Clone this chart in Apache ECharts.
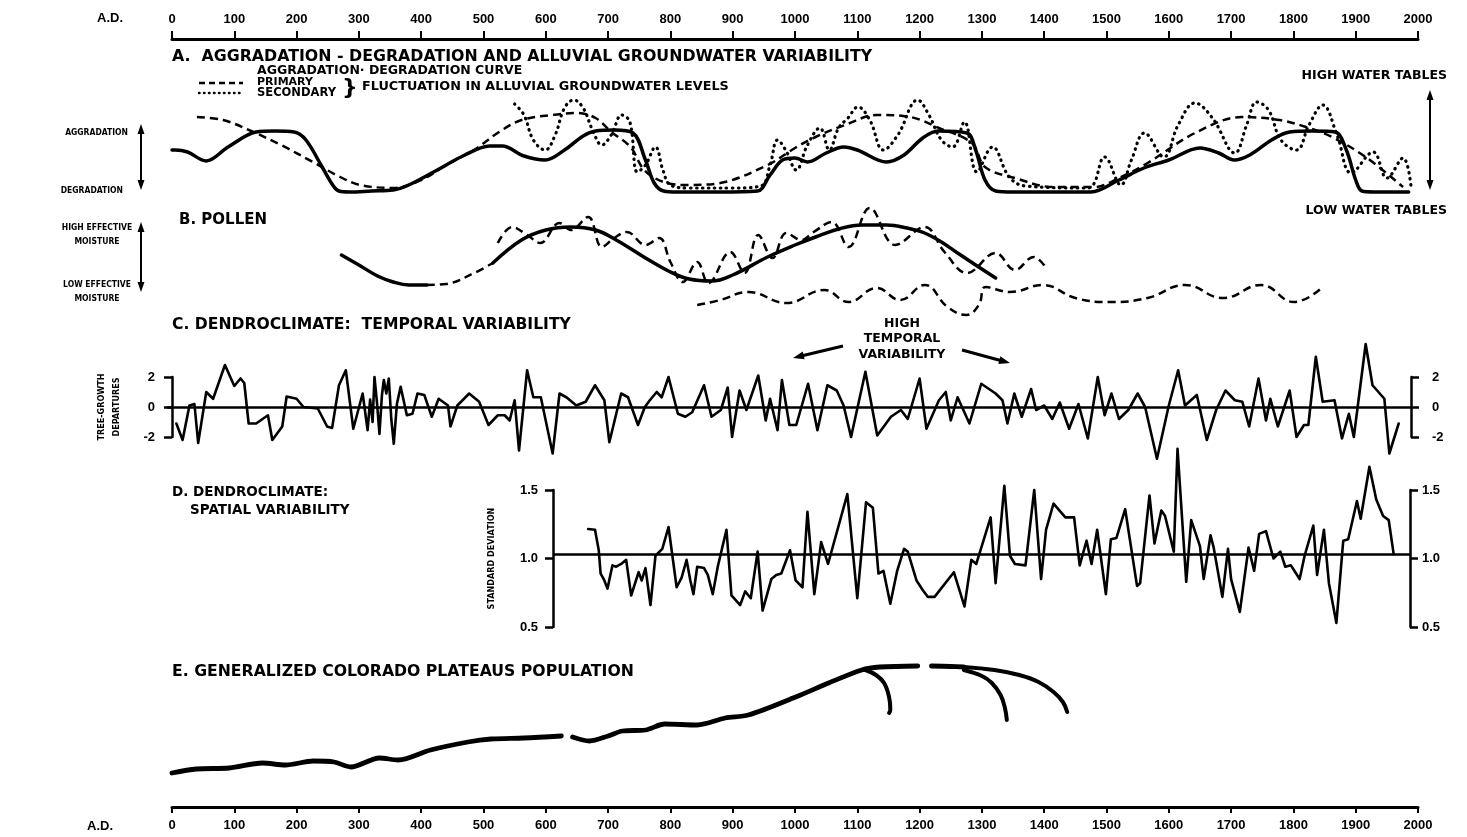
<!DOCTYPE html>
<html><head><meta charset="utf-8">
<script src="https://cdn.jsdelivr.net/npm/echarts@6/dist/echarts.min.js"></script>
<style>html,body{margin:0;padding:0;background:#fff}#c{width:1467px;height:837px}</style>
</head><body><div id="c"></div>
<script>
// ---------- DATA (year A.D., value) ----------
// A. aggradation-degradation curve (relative level 0 = degradation, ~6.5 = aggradation)
const aggradationCurve = [[0,4.5],[5,4.5],[25,4.3],[55,3.4],[90,4.8],[135,6.3],[165,6.4],[196,6.3],[215,5.5],[241,2.8],[258,1.0],[268,0.4],[285,0.3],[320,0.4],[355,0.5],[380,1.0],[420,2.3],[470,4.0],[510,4.9],[530,4.9],[565,3.9],[599,3.5],[630,4.5],[660,5.9],[680,6.4],[710,6.5],[740,6.2],[760,3.5],[774,1.2],[789,0.4],[810,0.3],[880,0.3],[940,0.4],[960,2.0],[980,3.5],[1000,3.7],[1020,3.3],[1050,4.2],[1078,4.8],[1100,4.5],[1147,3.3],[1175,4.0],[1205,5.7],[1230,6.4],[1276,6.2],[1290,4.5],[1305,1.5],[1322,0.4],[1350,0.3],[1475,0.3],[1520,1.5],[1560,2.7],[1600,3.5],[1650,4.7],[1680,4.2],[1705,3.5],[1730,4.0],[1765,5.5],[1794,6.3],[1830,6.4],[1867,6.3],[1885,4.5],[1900,1.5],[1910,0.4],[1930,0.3],[1985,0.3]];
// primary fluctuation in alluvial groundwater levels
const primaryGroundwater = [[40,7.8],[82,7.5],[127,6.4],[175,5.0],[226,3.3],[270,1.8],[302,1.0],[355,0.7],[400,1.5],[440,3.0],[485,4.5],[525,6.3],[561,7.5],[610,8.0],[650,8.2],[680,7.7],[705,6.3],[736,4.8],[758,2.5],[789,1.3],[827,1.0],[880,1.2],[956,3.0],[1000,4.7],[1033,5.8],[1080,7.0],[1131,8.0],[1185,7.8],[1231,6.7],[1284,5.2],[1305,2.8],[1353,1.7],[1414,0.8],[1481,0.8],[1520,1.7],[1566,3.2],[1642,6.2],[1717,7.8],[1778,7.5],[1820,6.8],[1862,5.8],[1916,3.8],[1976,0.8]];
// secondary fluctuation in alluvial groundwater levels
const secondaryGroundwater = [[550,9.1],[565,8.0],[580,5.5],[599,4.5],[615,6.0],[630,8.7],[645,9.5],[660,8.7],[675,6.5],[690,5.0],[705,6.0],[722,8.0],[735,7.3],[747,2.3],[760,3.0],[776,4.8],[788,2.5],[800,1.0],[830,0.7],[900,0.7],[945,0.9],[960,3.0],[972,5.5],[985,4.5],[1002,2.5],[1020,5.0],[1040,6.7],[1055,4.5],[1070,6.7],[1085,7.7],[1101,8.8],[1120,7.5],[1142,4.5],[1165,6.0],[1197,9.5],[1215,8.0],[1235,5.5],[1253,4.8],[1272,7.3],[1292,2.3],[1317,4.8],[1344,1.8],[1370,0.9],[1470,0.7],[1497,3.8],[1523,1.0],[1540,3.5],[1561,6.2],[1592,3.8],[1615,7.0],[1642,9.2],[1670,7.7],[1706,4.2],[1725,7.0],[1741,9.3],[1760,8.5],[1780,5.5],[1805,4.5],[1825,7.0],[1847,9.0],[1870,6.0],[1893,2.2],[1928,4.3],[1950,1.7],[1976,3.7],[1989,0.7]];
// B. pollen (effective moisture, relative)
const pollenTrendEarly = [[272,6.5],[300,5.5],[330,4.4],[355,3.8],[380,3.5],[409,3.5]];
const pollenTrendGap = [[409,3.5],[440,3.6],[485,4.7],[515,5.7]];
const pollenTrend = [[515,5.7],[561,8.0],[600,9.0],[640,9.3],[680,9.0],[713,8.0],[760,6.2],[800,4.8],[830,4.1],[866,3.9],[900,4.5],[956,6.3],[1000,7.5],[1033,8.3],[1070,9.1],[1108,9.5],[1147,9.5],[1180,9.2],[1208,8.7],[1235,7.8],[1261,6.7],[1290,5.5],[1322,4.2]];
const pollenFluctuation = [[523,7.7],[546,9.3],[570,8.5],[591,7.7],[622,9.7],[640,9.0],[668,10.3],[690,7.3],[710,8.2],[730,8.8],[760,7.5],[782,8.2],[800,5.8],[820,3.8],[843,5.8],[861,3.7],[896,6.8],[919,4.7],[941,8.5],[964,6.2],[986,8.7],[1010,8.0],[1030,8.8],[1059,9.8],[1086,7.3],[1120,11.2],[1161,7.5],[1208,9.3],[1240,6.8],[1276,4.7],[1322,6.7],[1353,5.0],[1383,6.3],[1402,5.3]];
const pollenLower = [[843,1.5],[880,2.0],[925,2.8],[986,1.7],[1047,3.0],[1086,1.8],[1131,3.2],[1169,2.0],[1208,3.5],[1245,1.3],[1275,0.5],[1295,1.5],[1306,3.3],[1345,2.8],[1398,3.5],[1450,2.2],[1505,1.8],[1566,2.2],[1626,3.5],[1687,2.2],[1748,3.5],[1801,1.8],[1847,3.3]];
// C. tree-growth departures
const treeGrowthDepartures = [[7,-1.1],[17,-2.2],[28,0.1],[36,0.2],[42,-2.4],[55,1.0],[66,0.55],[85,2.8],[100,1.4],[110,1.9],[116,1.6],[123,-1.1],[135,-1.1],[154,-0.55],[161,-2.2],[177,-1.3],[184,0.7],[200,0.55],[211,0],[234,-0.1],[249,-1.3],[257,-1.4],[268,1.45],[279,2.45],[291,-1.45],[306,0.9],[314,-1.55],[318,0.5],[322,-1.0],[325,2.0],[329,0.3],[333,-1.8],[337,0.8],[340,1.8],[344,0.9],[348,1.9],[352,-0.8],[356,-2.45],[361,0.2],[367,1.35],[377,-0.55],[386,-0.45],[394,0.9],[405,0.8],[417,-0.65],[428,0.55],[443,0.1],[447,-1.3],[458,0.1],[477,0.9],[493,0.35],[508,-1.2],[523,-0.55],[534,-0.55],[542,-0.9],[550,0.45],[557,-2.9],[570,2.45],[580,0.65],[592,0.65],[611,-3.1],[622,0.9],[633,0.65],[649,0.1],[664,0.35],[679,1.45],[694,0.45],[702,-2.35],[721,0.9],[732,0.65],[748,-1.2],[759,0],[767,0.45],[778,1.0],[786,0.65],[797,2.0],[812,-0.45],[824,-0.65],[835,-0.35],[854,1.45],[866,-0.65],[881,-0.2],[892,1.3],[899,-2.0],[911,1.1],[922,-0.2],[941,2.1],[953,-0.9],[960,0.55],[972,-1.55],[979,1.8],[991,-1.2],[1002,-1.2],[1021,1.55],[1036,-1.55],[1052,1.45],[1067,1.1],[1078,0.1],[1090,-2.0],[1113,2.35],[1132,-1.9],[1154,-0.65],[1170,-0.2],[1181,-0.8],[1200,1.9],[1211,-1.45],[1231,0.45],[1242,1.0],[1250,-0.9],[1261,0.65],[1280,-1.1],[1299,1.55],[1322,0.9],[1333,0.45],[1341,-1.1],[1352,0.9],[1364,-0.65],[1379,1.2],[1387,-0.2],[1400,0.1],[1413,-0.8],[1425,0.3],[1440,-1.45],[1455,0.2],[1470,-2.1],[1486,2.0],[1497,-0.55],[1508,0.9],[1520,-0.8],[1535,-0.2],[1550,0.9],[1562,0],[1581,-3.45],[1600,0.1],[1615,2.45],[1626,0.1],[1645,0.8],[1661,-2.2],[1676,-0.2],[1691,1.1],[1706,0.45],[1718,0.35],[1729,-1.3],[1744,1.9],[1756,-0.9],[1763,0.55],[1775,-1.3],[1794,1.1],[1805,-2.0],[1817,-1.2],[1824,-1.2],[1836,3.35],[1847,0.35],[1866,0.45],[1878,-2.1],[1889,-0.45],[1897,-2.0],[1916,4.2],[1927,1.45],[1946,0.55],[1954,-3.1],[1969,-1.1]];
// D. spatial variability (standard deviation)
const spatialStdDev = [[668,1.215],[679,1.21],[685,1.06],[688,0.89],[693,0.85],[699,0.78],[707,0.95],[713,0.94],[721,0.96],[729,0.99],[737,0.73],[749,0.9],[754,0.84],[760,0.93],[768,0.66],[776,1.02],[787,1.07],[797,1.23],[810,0.79],[818,0.86],[826,0.99],[832,0.84],[837,0.74],[843,0.94],[854,0.93],[860,0.88],[868,0.74],[876,0.94],[890,1.21],[898,0.73],[912,0.66],[920,0.76],[929,0.71],[940,1.05],[948,0.62],[962,0.85],[970,0.88],[978,0.89],[992,1.06],[1001,0.84],[1012,0.79],[1020,1.34],[1031,0.74],[1042,1.12],[1053,0.96],[1084,1.47],[1100,0.71],[1114,1.41],[1125,1.37],[1134,0.89],[1142,0.91],[1153,0.67],[1164,0.91],[1175,1.07],[1181,1.05],[1195,0.84],[1205,0.77],[1213,0.72],[1224,0.72],[1255,0.90],[1272,0.65],[1283,0.99],[1291,0.96],[1314,1.30],[1322,0.82],[1336,1.53],[1345,1.02],[1353,0.96],[1370,0.95],[1384,1.50],[1395,0.85],[1403,1.21],[1415,1.40],[1434,1.30],[1448,1.30],[1457,0.95],[1468,1.13],[1476,0.96],[1485,1.21],[1499,0.74],[1507,1.14],[1516,1.15],[1530,1.36],[1549,0.80],[1554,0.82],[1569,1.46],[1577,1.11],[1588,1.35],[1594,1.31],[1608,1.05],[1614,1.8],[1628,0.83],[1636,1.28],[1650,1.09],[1656,0.85],[1667,1.17],[1672,1.08],[1686,0.72],[1695,1.07],[1700,0.85],[1714,0.61],[1728,1.08],[1737,0.91],[1745,1.18],[1756,1.20],[1768,1.00],[1779,1.05],[1787,0.94],[1796,0.95],[1810,0.85],[1818,1.02],[1832,1.24],[1838,0.88],[1849,1.21],[1857,0.82],[1869,0.53],[1880,1.13],[1888,1.14],[1902,1.42],[1908,1.29],[1922,1.67],[1933,1.43],[1944,1.31],[1953,1.28],[1961,1.03]];
const spatialMean = 1.03;
// E. generalized Colorado Plateaus population (relative)
const populationEarly = [[0,0.7],[39,1.1],[92,1.2],[145,1.7],[182,1.5],[227,1.9],[260,1.8],[287,1.3],[333,2.2],[363,2.0],[415,3.0],[475,3.8],[512,4.1],[565,4.2],[625,4.4]];
const populationRise = [[643,4.3],[670,3.9],[700,4.4],[723,4.9],[760,5.0],[791,5.6],[843,5.5],[888,6.2],[925,6.5],[1001,8.3],[1054,9.7],[1107,11.0],[1136,11.3],[1197,11.4]];
const populationLate = [[1219,11.4],[1250,11.35],[1271,11.3]];
const populationDecline1 = [[1113,11.0],[1130,10.5],[1143,9.7],[1151,8.3],[1153,7.0],[1151,6.7]];
const populationDecline2 = [[1271,11.0],[1300,10.4],[1316,9.7],[1330,8.5],[1337,7.2],[1340,6.0]];
const populationDecline3 = [[1271,11.3],[1320,11.0],[1360,10.5],[1391,9.8],[1415,8.8],[1430,7.8],[1437,6.8]];
// axis ticks
const yearMin = 0, yearMax = 2000, yearStep = 100;
const departureTicks = {min:-2, max:2, step:2};
const stdDevTicks = {min:0.5, max:1.5, step:0.5};

// ---------- STYLE ----------
const K = 0.623;             // px per year shared by every panel
const X0 = 172;              // x pixel of A.D. 0
const W = 1467;
const NUM = '"Liberation Sans", Arial, sans-serif';
const BOLD = '"DejaVu Sans", sans-serif';
const COND = '"DejaVu Sans Condensed", "DejaVu Sans", sans-serif';
function yr(px){ return (px - X0)/K; }

const hiddenX = (g, l, r) => ({gridIndex:g, type:'value', min:yr(l), max:yr(W - r), show:false});
const hiddenY = (g, mn, mx) => ({gridIndex:g, type:'value', min:mn, max:mx, show:false});

function tickAxis(g, pos){
  return {gridIndex:g, type:'value', position:pos, min:yearMin, max:yearMax, interval:yearStep,
    axisLine:{show:true, lineStyle:{color:'#000', width:3}},
    axisTick:{show:true, length: pos==='top'?8:6, lineStyle:{color:'#000', width:2}},
    axisLabel:{margin:12, fontSize:13, fontWeight:'bold', fontFamily:NUM, color:'#000', formatter:v=>String(v)},
    splitLine:{show:false}};
}
function bracketY(g, pos, t, margin, name, gap, fmt){
  return {gridIndex:g, type:'value', position:pos, min:t.min, max:t.max, interval:t.step,
    axisLine:{show:true, lineStyle:{color:'#000', width:2.5}},
    axisTick:{show:true, length:8, lineStyle:{color:'#000', width:2.5}},
    axisLabel:{margin:margin, fontSize:13, fontWeight:'bold', fontFamily:NUM, color:'#000', formatter:fmt},
    splitLine:{show:false},
    name:name||'', nameLocation:'middle', nameGap:gap||0, nameRotate:90,
    nameTextStyle:{fontSize:9, fontWeight:'bold', fontFamily:COND, color:'#000', lineHeight:15}};
}

const grids = [
  {left:X0, right:49, top:38, height:1},     // 0 top year axis
  {left:X0, right:49, top:95, height:100},   // 1 A
  {left:X0, right:49, top:200, height:120},  // 2 B
  {left:167, right:56, top:377, height:60},  // 3 C
  {left:553, right:57, top:490, height:137}, // 4 D
  {left:X0, right:49, top:660, height:120},  // 5 E
  {left:X0, right:49, top:806, height:1}     // 6 bottom year axis
];
const xAxes = [tickAxis(0,'top'), hiddenX(1,X0,49), hiddenX(2,X0,49), hiddenX(3,167,56), hiddenX(4,553,57), hiddenX(5,X0,49), tickAxis(6,'bottom')];
const yAxes = [hiddenY(0,0,1), hiddenY(1,0,10), hiddenY(2,0,12),
  bracketY(3,'left',departureTicks,12,'TREE-GROWTH\nDEPARTURES',43, v=>String(v)),
  bracketY(3,'right',departureTicks,21,'',0, v=>String(v)),
  bracketY(4,'left',stdDevTicks,15,'STANDARD DEVIATION',54, v=>v.toFixed(1)),
  bracketY(4,'right',stdDevTicks,12,'',0, v=>v.toFixed(1)),
  hiddenY(5,0,12), hiddenY(6,0,1)];

function line(data, xi, yi, ls, smooth){
  return {type:'line', data:data, xAxisIndex:xi, yAxisIndex:yi, symbol:'none', smooth:smooth||false,
    clip:false, silent:true, animation:false, lineStyle:Object.assign({color:'#000', cap:'round', join:'round'}, ls)};
}
const SOLID = {width:3.5};
const DASH = {width:2.5, type:[8,5], cap:'butt'};
const DOT = {width:3.2, type:[0.5,5.5], cap:'round'};

const series = [
  line(aggradationCurve,1,1,SOLID,0.35),
  line(primaryGroundwater,1,1,DASH,0.35),
  line(secondaryGroundwater,1,1,DOT,0.4),
  line(pollenTrendEarly,2,2,SOLID,0.4),
  line(pollenTrendGap,2,2,DASH,0.4),
  line(pollenTrend,2,2,SOLID,0.4),
  line(pollenFluctuation,2,2,DASH,0.4),
  line(pollenLower,2,2,DASH,0.45),
  Object.assign(line(treeGrowthDepartures,3,3,{width:2.6}),
    {markLine:{silent:true, symbol:'none', label:{show:false}, lineStyle:{color:'#000', width:2.5, type:'solid'}, data:[{yAxis:0}]}}),
  Object.assign(line(spatialStdDev,4,5,{width:2.6}),
    {markLine:{silent:true, symbol:'none', label:{show:false}, lineStyle:{color:'#000', width:2.5, type:'solid'}, data:[{yAxis:spatialMean}]}}),
  line(populationEarly,5,7,{width:4.8},0.3),
  line(populationRise,5,7,{width:4.8},0.3),
  line(populationLate,5,7,{width:4.8},0.3),
  line(populationDecline1,5,7,{width:4},0.4),
  line(populationDecline2,5,7,{width:4},0.4),
  line(populationDecline3,5,7,{width:4},0.4)
];

// ---------- ANNOTATIONS ----------
function T(text, x, y, size, family, align){
  return {type:'text', silent:true, style:{text:text, x:x, y:y, fill:'#000', fontSize:size, fontWeight:'bold',
    fontFamily:family||BOLD, textAlign:align||'left', textVerticalAlign:'middle'}};
}
function seg(x1,y1,x2,y2,w,dash){
  return {type:'line', silent:true, shape:{x1:x1,y1:y1,x2:x2,y2:y2}, style:{stroke:'#000', lineWidth:w||2, lineDash:dash||null, lineCap:dash&&dash[0]<1?'round':'butt'}};
}
function head(x,y,dx,dy,len,wid){ // arrow head pointing in direction (dx,dy) with tip at (x,y)
  const l = Math.hypot(dx,dy), ux = dx/l, uy = dy/l, px = -uy, py = ux;
  const bx = x - ux*len, by = y - uy*len;
  return {type:'polygon', silent:true, shape:{points:[[x,y],[bx+px*wid,by+py*wid],[bx-px*wid,by-py*wid]]}, style:{fill:'#000'}};
}
function vArrow(x,y1,y2){ return [seg(x,y1+6,x,y2-6,2), head(x,y1,0,-1,10,3.5), head(x,y2,0,1,10,3.5)]; }
function arrow(x1,y1,x2,y2){ return [seg(x1,y1,x2-(x2-x1)*0.12,y2-(y2-y1)*0.12,3), head(x2,y2,x2-x1,y2-y1,11,4)]; }

const graphics = [
  T('A.D.',110,18,13,NUM,'center'), T('A.D.',100,826,13,NUM,'center'),
  T('A.  AGGRADATION - DEGRADATION AND ALLUVIAL GROUNDWATER VARIABILITY',172,57,15.8),
  T('AGGRADATION\u00B7 DEGRADATION CURVE',257,71,12.5),
  T('PRIMARY',257,82,11), T('SECONDARY',257,93,11.5),
  T('}',342,88,22,BOLD), T('FLUCTUATION IN ALLUVIAL GROUNDWATER LEVELS',362,87,12.8),
  seg(199,83,243,83,2.5,[6,4]), seg(199,93,243,93,2.5,[0.5,4.5]),
  T('HIGH WATER TABLES',1447,76,12.5,BOLD,'right'), T('LOW WATER TABLES',1447,211,12.5,BOLD,'right'),
  ...vArrow(1430,90,190),
  T('AGGRADATION',128,133,8.5,COND,'right'), T('DEGRADATION',123,191,8.5,COND,'right'),
  ...vArrow(141,124,190),
  T('B. POLLEN',179,220,15),
  T('HIGH EFFECTIVE',97,228,8.5,COND,'center'), T('MOISTURE',97,242,8.5,COND,'center'),
  T('LOW EFFECTIVE',97,285,8.5,COND,'center'), T('MOISTURE',97,299,8.5,COND,'center'),
  ...vArrow(141,222,292),
  T('C. DENDROCLIMATE:  TEMPORAL VARIABILITY',172,325,15.6),
  T('HIGH',902,324,12.5,BOLD,'center'), T('TEMPORAL',902,339,12.5,BOLD,'center'), T('VARIABILITY',902,355,12.5,BOLD,'center'),
  ...arrow(843,346,793,358), ...arrow(962,350,1010,363),
  T('D. DENDROCLIMATE:',172,492,13.5), T('SPATIAL VARIABILITY',190,510,13.5),
  T('E. GENERALIZED COLORADO PLATEAUS POPULATION',172,672,15.7)
];

const chart = echarts.init(document.getElementById('c'), null, {renderer:'canvas'});
chart.setOption({animation:false, backgroundColor:'#fff', grid:grids, xAxis:xAxes, yAxis:yAxes, series:series, graphic:graphics});
</script></body></html>
